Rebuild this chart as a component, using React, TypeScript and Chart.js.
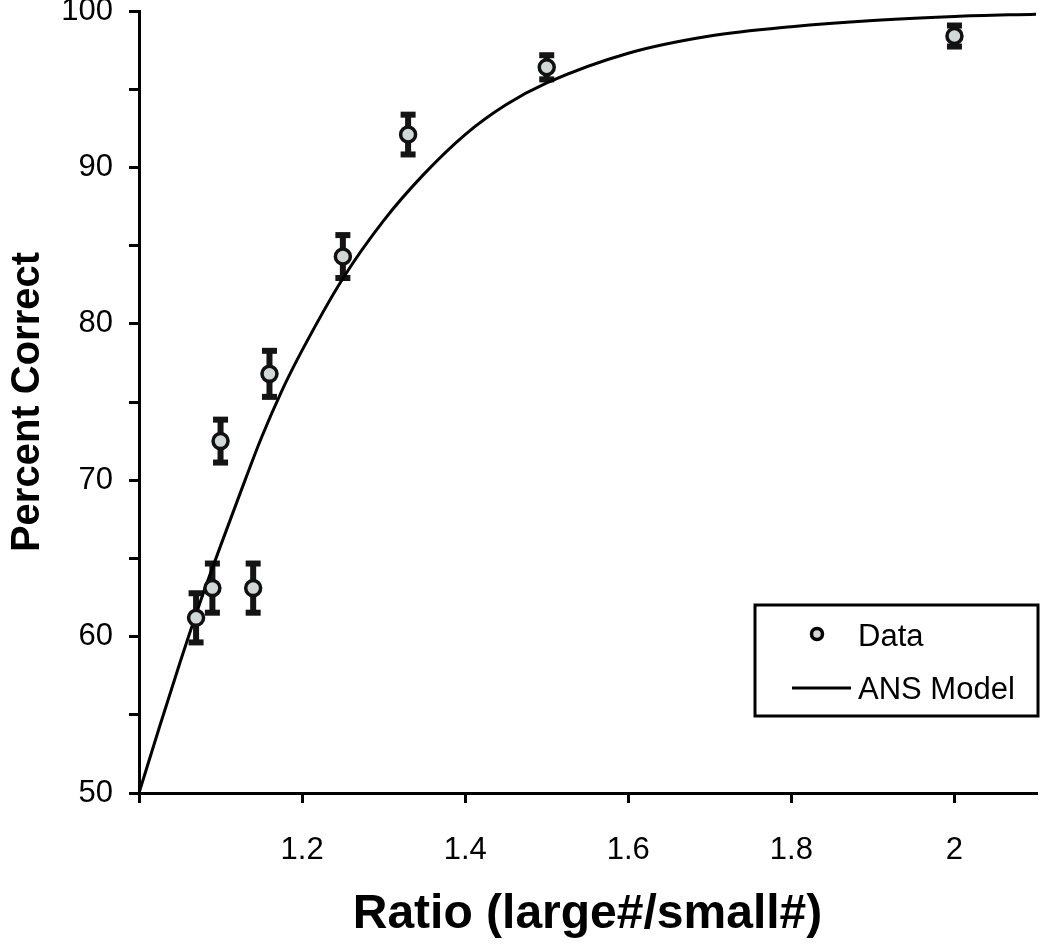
import React, { useEffect, useRef } from 'react';
import { Chart, registerables } from 'chart.js';

Chart.register(...registerables);

// Observed data (ratio of large#/small#, percent correct, ± error)
const ratios = [1.07, 1.09, 1.1, 1.14, 1.16, 1.25, 1.33, 1.5, 2.0];
const percentCorrect = [61.2, 63.1, 72.5, 63.1, 76.8, 84.3, 92.1, 96.4, 98.4];
const errorSize = [1.7, 1.7, 1.5, 1.7, 1.6, 1.5, 1.4, 0.9, 0.8];

// ANS model curve
const modelRatios = [1.0, 1.025, 1.05, 1.075, 1.1, 1.125, 1.15, 1.175, 1.2, 1.25, 1.3, 1.35, 1.4, 1.45, 1.5, 1.6, 1.7, 1.8, 1.9, 2.0, 2.1];
const modelPercent = [50, 54.2, 58.3, 62.2, 65.8, 69.3, 72.7, 75.7, 78.3, 82.9, 86.6, 89.6, 92.1, 94.0, 95.4, 97.3, 98.4, 99.0, 99.4, 99.65, 99.8];

// Axis ticks
const xTickValues = [1.0, 1.2, 1.4, 1.6, 1.8, 2.0];
const xTickLabels = ['', '1.2', '1.4', '1.6', '1.8', '2'];
const yTickValues = [50, 55, 60, 65, 70, 75, 80, 85, 90, 95, 100];
const yTickLabels = ['50', '', '60', '', '70', '', '80', '', '90', '', '100'];

const seriesLabels = ['Data', 'ANS Model'];
const xTitle = 'Ratio (large#/small#)';
const yTitle = 'Percent Correct';

const FONT = "'Liberation Sans', Arial, Helvetica, sans-serif";
const POINT_FILL = '#d0d8d8';

export default function App() {
  const ref = useRef<HTMLCanvasElement>(null);

  useEffect(() => {
    const canvas = ref.current;
    if (!canvas) return;

    const errorBars = {
      id: 'errorBars',
      beforeDatasetsDraw(chart: any) {
        const ctx = chart.ctx;
        const xs = chart.scales.x;
        const ys = chart.scales.y;
        ctx.save();
        ctx.fillStyle = '#141414';
        ratios.forEach((r, i) => {
          const px = xs.getPixelForValue(r);
          const top = ys.getPixelForValue(percentCorrect[i] + errorSize[i]);
          const bot = ys.getPixelForValue(percentCorrect[i] - errorSize[i]);
          ctx.fillRect(px - 3, top, 6, bot - top);
          ctx.fillRect(px - 7.5, top - 1, 15, 6);
          ctx.fillRect(px - 7.5, bot - 5, 15, 6);
        });
        ctx.restore();
      },
    };

    const legendBox = {
      id: 'legendBox',
      afterDraw(chart: any) {
        const ctx = chart.ctx;
        const area = chart.chartArea;
        const right = area.right + 2;
        const left = right - 283;
        const top = area.bottom - 188;
        const h = 111;
        ctx.save();
        ctx.fillStyle = '#fff';
        ctx.fillRect(left, top, right - left, h);
        ctx.lineWidth = 3;
        ctx.strokeStyle = '#000';
        ctx.strokeRect(left, top, right - left, h);
        // Data entry
        const y1 = top + 29;
        ctx.beginPath();
        ctx.arc(left + 62, y1, 5.5, 0, Math.PI * 2);
        ctx.fillStyle = POINT_FILL;
        ctx.fill();
        ctx.lineWidth = 3.5;
        ctx.stroke();
        ctx.fillStyle = '#000';
        ctx.font = `31px ${FONT}`;
        ctx.textBaseline = 'middle';
        ctx.textAlign = 'left';
        ctx.fillText(seriesLabels[0], left + 103, y1 + 3);
        // Model entry
        const y2 = top + 83;
        ctx.beginPath();
        ctx.moveTo(left + 37, y2);
        ctx.lineTo(left + 96, y2);
        ctx.lineWidth = 3;
        ctx.stroke();
        ctx.fillText(seriesLabels[1], left + 103, y2 + 2);
        ctx.restore();
      },
    };

    const chart = new Chart(canvas, {
      type: 'scatter',
      data: {
        datasets: [
          {
            label: seriesLabels[0],
            data: ratios.map((r, i) => ({ x: r, y: percentCorrect[i] })),
            showLine: false,
            pointRadius: 7.5,
            pointBorderWidth: 3.5,
            pointBackgroundColor: POINT_FILL,
            pointBorderColor: '#111',
            order: 0,
          },
          {
            label: seriesLabels[1],
            type: 'line',
            data: modelRatios.map((r, i) => ({ x: r, y: modelPercent[i] })),
            showLine: true,
            borderColor: '#000',
            borderWidth: 3,
            pointRadius: 0,
            cubicInterpolationMode: 'monotone',
            fill: false,
            order: 1,
          } as any,
        ],
      },
      options: {
        responsive: false,
        animation: false,
        devicePixelRatio: 1,
        layout: { padding: { top: 11, right: 14, bottom: 0, left: 0 } },
        plugins: {
          legend: { display: false },
          tooltip: { enabled: false },
        },
        scales: {
          x: {
            type: 'linear',
            min: 1.0,
            max: 2.1,
            afterBuildTicks: (scale: any) => {
              scale.ticks = xTickValues.map((v) => ({ value: v }));
            },
            afterFit: (scale: any) => {
              scale.height = 153;
              scale.paddingLeft = 0;
              scale.paddingRight = 0;
            },
            ticks: {
              color: '#000',
              font: { family: FONT, size: 31 },
              padding: 29,
              maxRotation: 0,
              autoSkip: false,
              callback: (v: any) => {
                const idx = xTickValues.findIndex((t) => Math.abs(t - Number(v)) < 1e-6);
                return idx >= 0 ? xTickLabels[idx] : '';
              },
            },
            grid: {
              drawOnChartArea: false,
              drawTicks: true,
              tickLength: 10,
              color: '#000',
              lineWidth: 3,
            },
            border: { display: true, color: '#000', width: 3 },
            title: {
              display: true,
              text: xTitle,
              color: '#000',
              font: { family: FONT, size: 48, weight: 'bold' },
              padding: { top: 0, bottom: 2 },
            },
          },
          y: {
            type: 'linear',
            min: 50,
            max: 100,
            afterBuildTicks: (scale: any) => {
              scale.ticks = yTickValues.map((v) => ({ value: v }));
            },
            afterFit: (scale: any) => {
              scale.width = 139;
              scale.paddingTop = 0;
              scale.paddingBottom = 0;
            },
            ticks: {
              color: '#000',
              font: { family: FONT, size: 31, lineHeight: 0.7 },
              padding: 16,
              autoSkip: false,
              callback: (v: any) => {
                const idx = yTickValues.findIndex((t) => Math.abs(t - Number(v)) < 1e-6);
                return idx >= 0 ? yTickLabels[idx] : '';
              },
            },
            grid: {
              drawOnChartArea: false,
              drawTicks: true,
              tickLength: 10,
              color: '#000',
              lineWidth: 3,
            },
            border: { display: true, color: '#000', width: 3 },
            title: {
              display: true,
              text: yTitle,
              color: '#000',
              font: { family: FONT, size: 40, weight: 'bold' },
              padding: { top: 4, bottom: 0 },
            },
          },
        },
      },
      plugins: [errorBars, legendBox],
    });

    return () => chart.destroy();
  }, []);

  return (
    <div style={{ position: 'absolute', left: 0, top: 0, width: 1050, height: 946, background: '#fff' }}>
      <canvas ref={ref} width={1050} height={946} style={{ display: 'block', width: 1050, height: 946 }} />
    </div>
  );
}
